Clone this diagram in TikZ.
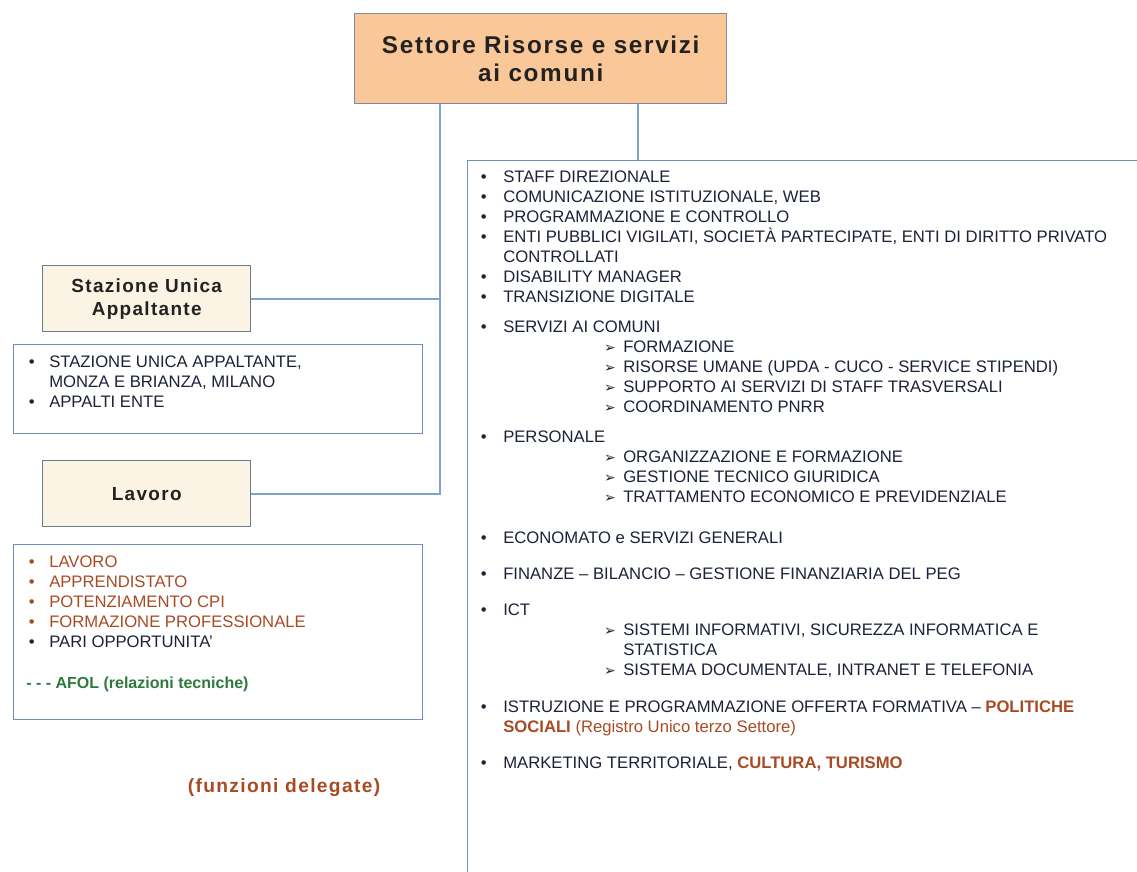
\documentclass[tikz,border=0pt]{standalone}
\usepackage{fontspec}
\setmainfont{Liberation Sans}
\newfontfamily\symfont{DejaVu Sans}
\newfontfamily\titlefont[LetterSpace=7]{Liberation Sans}
\definecolor{peach}{HTML}{FAC898}
\definecolor{cream}{HTML}{FBF3E3}
\definecolor{connblue}{HTML}{7FA3CC}
\definecolor{boxblue}{HTML}{6D8EBF}
\definecolor{topborder}{HTML}{7C8BA0}
\definecolor{grayborder}{HTML}{6E7B8B}
\definecolor{darktxt}{HTML}{1C2238}
\definecolor{titletxt}{HTML}{222222}
\definecolor{brown}{HTML}{A84B24}
\definecolor{afolgreen}{HTML}{2F7A3A}
\tikzset{
  conn/.style={draw=connblue, line width=1.2pt},
  topbox/.style={draw=topborder, fill=peach, line width=1.1pt, inner sep=0pt, anchor=north west, align=center, text=titletxt},
  unitbox/.style={draw=grayborder, fill=cream, line width=1.1pt, inner sep=0pt, anchor=north west, align=center, text=titletxt},
  listbox/.style={draw=boxblue, line width=1.1pt, inner sep=0pt, anchor=north west},
  txt/.style={anchor=base west, inner sep=0pt, text=darktxt, font=\fontsize{12.5}{14}\selectfont},
}
\newcommand{\bul}{\llap{\textbullet\hspace{12.5pt}}}
\newcommand{\lbul}{\llap{\textbullet\hspace{11pt}}}
\newcommand{\arr}{\llap{{\symfont\fontsize{10.5}{10}\selectfont ➢}\hspace{5.5pt}}}
\begin{document}
\begin{tikzpicture}[x=0.75pt,y=-0.75pt]
\useasboundingbox (0,0) rectangle (1137,871);
\clip (0,0) rectangle (1137,871);
\fill[white] (0,0) rectangle (1137,871);
\coordinate (c1) at (440,0);
\coordinate (c2) at (638,0);
% boxes
\node[topbox, minimum width=279pt, minimum height=67.5pt, font=\titlefont\bfseries\fontsize{18.2}{21}\selectfont] (top) at (354,13) {Settore Risorse e servizi\\ai comuni};
\node[unitbox, minimum width=156pt, minimum height=49.5pt, font=\titlefont\bfseries\fontsize{14.2}{17.25}\selectfont] (sua) at (42,265) {Stazione Unica\\Appaltante};
\node[unitbox, minimum width=156pt, minimum height=49.5pt, font=\titlefont\bfseries\fontsize{14.2}{17.25}\selectfont] (lav) at (42,460) {Lavoro};
\node[listbox, minimum width=306.75pt, minimum height=66.75pt] (list1) at (13,344) {};
\node[listbox, minimum width=306.75pt, minimum height=131.25pt] (list2) at (13,544) {};
\node[listbox, minimum width=519.75pt, minimum height=547.5pt] (staff) at (467,160) {};
% connectors
\draw[conn] (top.south -| c1) |- (lav.east);
\draw[conn] (sua.east) -- (sua.east -| c1);
\draw[conn] (top.south -| c2) -- (staff.north -| c2);
% left list 1
\node[txt] (a1) at (49,367) {\lbul STAZIONE UNICA APPALTANTE,};
\node[txt] (a2) at (49,387) {MONZA E BRIANZA, MILANO};
\node[txt] (a3) at (49,407) {\lbul APPALTI ENTE};
% left list 2
\node[txt, text=brown] (b1) at (49,567) {\lbul LAVORO};
\node[txt, text=brown] (b2) at (49,587) {\lbul APPRENDISTATO};
\node[txt, text=brown] (b3) at (49,607) {\lbul POTENZIAMENTO CPI};
\node[txt, text=brown] (b4) at (49,627) {\lbul FORMAZIONE PROFESSIONALE};
\node[txt] (b5) at (49,647) {\lbul PARI OPPORTUNITA'};
\node[txt, text=afolgreen, font=\bfseries\fontsize{12}{14}\selectfont] (b6) at (26,688) {- - - AFOL (relazioni tecniche)};
\node[anchor=base, inner sep=0pt, text=brown, font=\titlefont\bfseries\fontsize{14.4}{15}\selectfont] (fd) at (284,792) {(funzioni delegate)};
% right list
\node[txt] (r1) at (503,182) {\bul STAFF DIREZIONALE};
\node[txt] (r2) at (503,202) {\bul COMUNICAZIONE ISTITUZIONALE, WEB};
\node[txt] (r3) at (503,222) {\bul PROGRAMMAZIONE E CONTROLLO};
\node[txt] (r4) at (503,242) {\bul ENTI PUBBLICI VIGILATI, SOCIETÀ PARTECIPATE, ENTI DI DIRITTO PRIVATO};
\node[txt] (r5) at (503,262) {CONTROLLATI};
\node[txt] (r6) at (503,282) {\bul DISABILITY MANAGER};
\node[txt] (r7) at (503,302) {\bul TRANSIZIONE DIGITALE};
\node[txt] (r8) at (503,332) {\bul SERVIZI AI COMUNI};
\node[txt] (r9) at (623,352) {\arr FORMAZIONE};
\node[txt] (r10) at (623,372) {\arr RISORSE UMANE (UPDA - CUCO - SERVICE STIPENDI)};
\node[txt] (r11) at (623,392) {\arr SUPPORTO AI SERVIZI DI STAFF TRASVERSALI};
\node[txt] (r12) at (623,412) {\arr COORDINAMENTO PNRR};
\node[txt] (r13) at (503,442) {\bul PERSONALE};
\node[txt] (r14) at (623,462) {\arr ORGANIZZAZIONE E FORMAZIONE};
\node[txt] (r15) at (623,482) {\arr GESTIONE TECNICO GIURIDICA};
\node[txt] (r16) at (623,502) {\arr TRATTAMENTO ECONOMICO E PREVIDENZIALE};
\node[txt] (r17) at (503,543) {\bul ECONOMATO e SERVIZI GENERALI};
\node[txt] (r18) at (503,579) {\bul FINANZE -- BILANCIO -- GESTIONE FINANZIARIA DEL PEG};
\node[txt] (r19) at (503,615) {\bul ICT};
\node[txt] (r20) at (623,635) {\arr SISTEMI INFORMATIVI, SICUREZZA INFORMATICA E};
\node[txt] (r21) at (623,655) {STATISTICA};
\node[txt] (r22) at (623,675) {\arr SISTEMA DOCUMENTALE, INTRANET E TELEFONIA};
\node[txt] (r23) at (503,712) {\bul ISTRUZIONE E PROGRAMMAZIONE OFFERTA FORMATIVA -- \textcolor{brown}{\textbf{POLITICHE}}};
\node[txt, text=brown] (r24) at (503,732) {\textbf{SOCIALI} (Registro Unico terzo Settore)};
\node[txt] (r25) at (503,768) {\bul MARKETING TERRITORIALE, \textcolor{brown}{\textbf{CULTURA, TURISMO}}};
\end{tikzpicture}
\end{document}
